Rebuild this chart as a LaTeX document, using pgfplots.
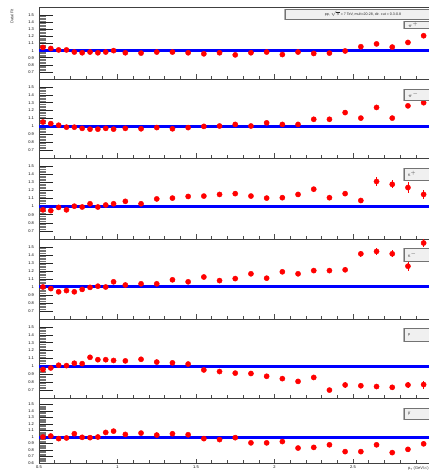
\documentclass[border=0pt]{standalone}
\usepackage{pgfplots}
\pgfplotsset{compat=1.18}
\usepackage{pgfplotstable}
\usepackage{fontspec}
\setmainfont{Liberation Sans}

% Data/Fit ratios per species: pt, ratio, error
\pgfplotstableread{
pt r e
0.525 1.045 0.010
0.575 1.030 0.010
0.625 1.010 0.010
0.675 1.010 0.010
0.725 0.980 0.010
0.775 0.970 0.010
0.825 0.980 0.010
0.875 0.970 0.010
0.925 0.980 0.010
0.975 1.000 0.010
1.05 0.970 0.010
1.15 0.965 0.010
1.25 0.980 0.010
1.35 0.980 0.010
1.45 0.970 0.010
1.55 0.955 0.010
1.65 0.970 0.012
1.75 0.940 0.012
1.85 0.970 0.012
1.95 0.980 0.012
2.05 0.945 0.012
2.15 0.980 0.012
2.25 0.960 0.012
2.35 0.965 0.012
2.45 0.995 0.015
2.55 1.055 0.015
2.65 1.095 0.015
2.75 1.050 0.015
2.85 1.115 0.018
2.95 1.210 0.020
}\tabPip

\pgfplotstableread{
pt r e
0.525 1.055 0.010
0.575 1.035 0.010
0.625 1.015 0.010
0.675 0.990 0.010
0.725 0.990 0.010
0.775 0.975 0.010
0.825 0.965 0.010
0.875 0.965 0.010
0.925 0.975 0.010
0.975 0.965 0.010
1.05 0.975 0.010
1.15 0.970 0.010
1.25 0.985 0.010
1.35 0.970 0.010
1.45 0.985 0.010
1.55 1.000 0.010
1.65 1.005 0.012
1.75 1.025 0.012
1.85 1.005 0.012
1.95 1.045 0.012
2.05 1.025 0.012
2.15 1.025 0.012
2.25 1.090 0.012
2.35 1.090 0.012
2.45 1.175 0.015
2.55 1.105 0.015
2.65 1.240 0.015
2.75 1.105 0.015
2.85 1.260 0.018
2.95 1.300 0.020
}\tabPim

\pgfplotstableread{
pt r e
0.525 0.960 0.010
0.575 0.950 0.010
0.625 0.990 0.010
0.675 0.960 0.010
0.725 1.005 0.010
0.775 0.995 0.010
0.825 1.035 0.010
0.875 0.995 0.010
0.925 1.020 0.010
0.975 1.035 0.010
1.05 1.065 0.010
1.15 1.035 0.010
1.25 1.095 0.010
1.35 1.105 0.010
1.45 1.125 0.010
1.55 1.130 0.012
1.65 1.150 0.015
1.75 1.160 0.015
1.85 1.130 0.015
1.95 1.105 0.015
2.05 1.110 0.020
2.15 1.150 0.020
2.25 1.215 0.030
2.35 1.110 0.025
2.45 1.160 0.030
2.55 1.075 0.030
2.65 1.310 0.050
2.75 1.275 0.050
2.85 1.235 0.070
2.95 1.150 0.060
}\tabKp

\pgfplotstableread{
pt r e
0.525 1.000 0.010
0.575 0.980 0.010
0.625 0.940 0.010
0.675 0.955 0.010
0.725 0.940 0.010
0.775 0.970 0.010
0.825 0.995 0.010
0.875 1.010 0.010
0.925 1.000 0.010
0.975 1.065 0.010
1.05 1.025 0.010
1.15 1.040 0.010
1.25 1.040 0.010
1.35 1.090 0.010
1.45 1.065 0.010
1.55 1.125 0.012
1.65 1.080 0.015
1.75 1.105 0.015
1.85 1.165 0.015
1.95 1.110 0.015
2.05 1.190 0.020
2.15 1.165 0.020
2.25 1.205 0.025
2.35 1.205 0.025
2.45 1.215 0.030
2.55 1.415 0.035
2.65 1.445 0.045
2.75 1.415 0.045
2.85 1.260 0.060
2.95 1.550 0.050
}\tabKm

\pgfplotstableread{
pt r e
0.525 0.960 0.010
0.575 0.980 0.010
0.625 1.015 0.010
0.675 1.010 0.010
0.725 1.040 0.010
0.775 1.035 0.010
0.825 1.115 0.010
0.875 1.085 0.010
0.925 1.085 0.010
0.975 1.075 0.010
1.05 1.070 0.010
1.15 1.090 0.010
1.25 1.055 0.010
1.35 1.045 0.010
1.45 1.030 0.010
1.55 0.955 0.012
1.65 0.935 0.015
1.75 0.915 0.015
1.85 0.910 0.015
1.95 0.875 0.015
2.05 0.845 0.020
2.15 0.810 0.020
2.25 0.860 0.025
2.35 0.700 0.025
2.45 0.765 0.035
2.55 0.755 0.030
2.65 0.745 0.035
2.75 0.735 0.035
2.85 0.765 0.040
2.95 0.770 0.050
}\tabP

\pgfplotstableread{
pt r e
0.525 1.000 0.010
0.575 1.015 0.010
0.625 0.975 0.010
0.675 0.985 0.010
0.725 1.050 0.010
0.775 0.995 0.010
0.825 0.990 0.010
0.875 1.000 0.010
0.925 1.070 0.010
0.975 1.090 0.010
1.05 1.040 0.010
1.15 1.060 0.010
1.25 1.030 0.010
1.35 1.050 0.010
1.45 1.035 0.010
1.55 0.975 0.012
1.65 0.960 0.015
1.75 0.990 0.015
1.85 0.910 0.015
1.95 0.910 0.015
2.05 0.930 0.020
2.15 0.830 0.020
2.25 0.840 0.020
2.35 0.880 0.025
2.45 0.775 0.025
2.55 0.775 0.025
2.65 0.880 0.030
2.75 0.760 0.030
2.85 0.810 0.035
2.95 0.895 0.040
}\tabPbar

\newcommand\ticklabelfont{\fontsize{4}{4.5}\selectfont}
\newcommand\boxfont{\fontsize{3.6}{4}\selectfont}

\pgfplotsset{
  ratiopanel/.style={
    scale only axis, width=392.5pt,
    xmin=0.5, xmax=3.0, ymin=0.6, ymax=1.6,
    anchor=south west,
    axis line style={black!75, line width=0.5pt},
    xtick={0.5,1,1.5,2,2.5}, xticklabels={}, xtick style={draw=none},
    ytick={0.7,0.8,0.9,1,1.1,1.2,1.3,1.4,1.5},
    yticklabels={0.7,0.8,0.9,1,1.1,1.2,1.3,1.4,1.5},
    ytick pos=left, tick align=inside,
    major tick length=14pt, minor tick length=7pt,
    minor y tick num=4,
    major y tick style={black!85, line width=0.55pt},
    minor y tick style={black!55, line width=0.6pt},
    yticklabel style={font=\ticklabelfont, xshift=-1.5pt},
    xticklabel style={font=\ticklabelfont, yshift=0.8pt},
    /pgf/number format/assume math mode=true,
  },
  ratiopts/.style={
    only marks, mark=*, mark size=2.6pt, color=red,
    mark options={fill=red, draw=red},
    error bars/.cd, y dir=both, y explicit,
    error bar style={red, line width=0.7pt}, error mark=none,
  },
}

% unity line, data and bottom ticks of one panel
\newcommand\panelbody[1]{%
  \addplot[blue, line width=3pt, forget plot] coordinates {(0.5,1) (3.0,1)};
  \addplot[ratiopts] table[x=pt, y=r, y error=e] {#1};
  \pgfplotsinvokeforeach{0.6,0.7,0.8,0.9,1.1,1.2,1.3,1.4,1.6,1.7,1.8,1.9,2.1,2.2,2.3,2.4,2.6,2.7,2.8,2.9}{
    \draw[black!70, line width=0.5pt] (axis cs:##1,0.6) -- ++(0pt,2.7pt);}
  \pgfplotsinvokeforeach{1.0,1.5,2.0,2.5}{
    \draw[black!70, line width=0.5pt] (axis cs:##1,0.6) -- ++(0pt,4.5pt);}
}

% species label box
\newcommand\speciesbox[3]{%
  \fill[gray!60] (403pt,#1pt-1.2pt) rectangle (430pt,#2pt);
  \filldraw[fill=gray!12, draw=black!55, line width=0.4pt] (404pt,#1pt) rectangle (430pt,#2pt);
  \node[anchor=west, inner sep=0pt, text=black!80] at (408pt,#1pt/2+#2pt/2) {\boxfont #3};
}

\begin{document}
\begin{tikzpicture}
\useasboundingbox (0pt,0pt) rectangle (429pt,475pt);
\fill[white] (0pt,0pt) rectangle (429pt,475pt);

\begin{axis}[ratiopanel, at={(39pt,396pt)}, height=72pt, ymax=1.615]
  \panelbody{\tabPip}
\end{axis}
\begin{axis}[ratiopanel, at={(39pt,317pt)}, height=79pt]
  \panelbody{\tabPim}
\end{axis}
\begin{axis}[ratiopanel, at={(39pt,236pt)}, height=81pt]
  \panelbody{\tabKp}
\end{axis}
\begin{axis}[ratiopanel, at={(39pt,156pt)}, height=80pt]
  \panelbody{\tabKm}
\end{axis}
\begin{axis}[ratiopanel, at={(39pt,77pt)}, height=79pt]
  \panelbody{\tabP}
\end{axis}
\begin{axis}[ratiopanel, at={(39pt,12pt)}, height=65pt,
    ytick={0.6,0.7,0.8,0.9,1,1.1,1.2,1.3,1.4,1.5},
    yticklabels={0.6,0.7,0.8,0.9,1,1.1,1.2,1.3,1.4,1.5},
    xticklabels={0.5,1,1.5,2,2.5}]
  \panelbody{\tabPbar}
\end{axis}

% header box
\fill[gray!60] (284pt,454.8pt) rectangle (430pt,466pt);
\filldraw[fill=gray!12, draw=black!55, line width=0.4pt] (285pt,456pt) rectangle (430pt,466pt);
\node[inner sep=0pt, text=black!85] at (363pt,461pt) {\boxfont pp, $\sqrt{s}$ = 7 TeV, mult=20-28, dir. cut = 0.3-0.8};

\speciesbox{447}{454}{$\pi^{+}$}
\speciesbox{375}{386}{$\pi^{-}$}
\speciesbox{295}{307}{K$^{+}$}
\speciesbox{214}{227}{K$^{-}$}
\speciesbox{134}{147}{p}
\speciesbox{56}{67}{$\bar{\mathrm{p}}$}

% axis titles
\node[rotate=90, inner sep=0pt, text=black!80] at (12pt,458.5pt) {\ticklabelfont Data/Fit};
\node[anchor=west, inner sep=0pt, text=black!80] at (408pt,6pt) {\ticklabelfont p$_{\mathrm{T}}$ (GeV/$c$)};
\end{tikzpicture}
\end{document}
